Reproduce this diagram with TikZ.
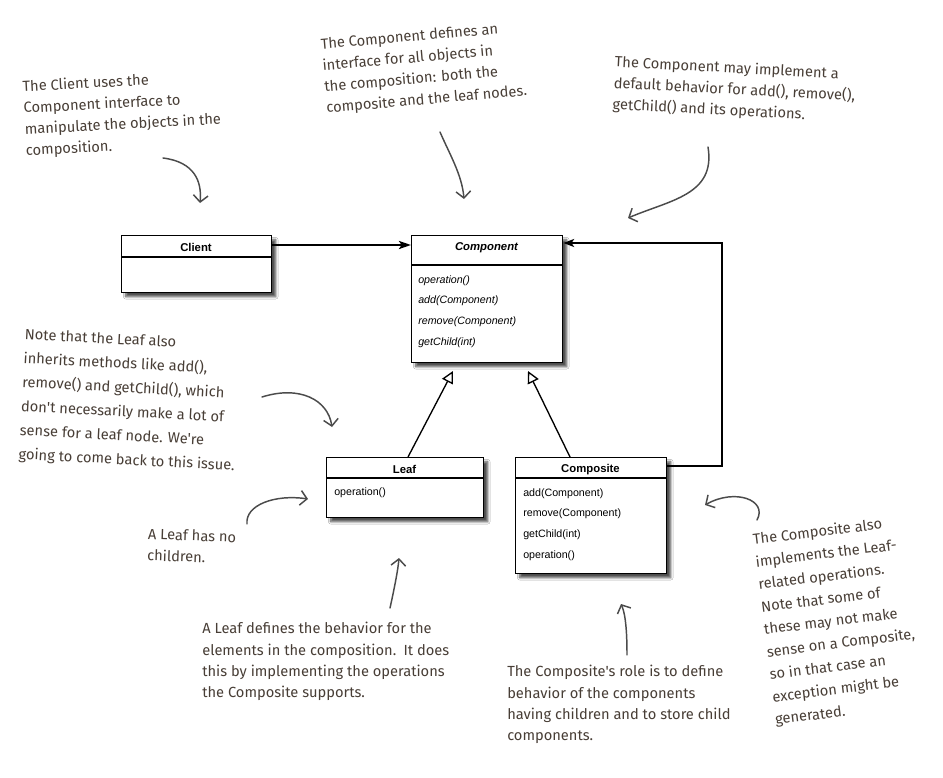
\documentclass[tikz,border=0pt]{standalone}
\usepackage{fontspec}
\newfontfamily\boxfont{Liberation Sans}
\newfontfamily\notefont{Fira Sans}
\usetikzlibrary{arrows.meta,shadows.blur}
\definecolor{notecol}{RGB}{72,62,54}
\definecolor{arrcol}{RGB}{75,75,75}
\tikzset{
 umlbox/.style={draw=black, line width=1.1pt, fill=white, anchor=north west, inner sep=0,
   blur shadow={shadow xshift=3pt, shadow yshift=-3pt, shadow blur steps=6, shadow opacity=70}},
 sep/.style={line width=0.8pt},
 title/.style={font=\boxfont\bfseries\fontsize{8.5}{10}\selectfont, inner sep=0},
 item/.style={font=\boxfont\fontsize{8}{10}\selectfont, anchor=west, inner sep=0},
 note/.style={font=\notefont\fontsize{11}{16}\selectfont, text=notecol, align=left, anchor=north west, inner sep=0},
 hand/.style={draw=arrcol, line width=1.1pt, line cap=round, -{Straight Barb[length=5pt,width=11pt]}},
 assoc/.style={line width=2pt, -{Stealth[length=9pt,width=6pt,inset=2pt]}},
 aggr/.style={line width=1.5pt, -{Stealth[length=8pt,width=6pt,inset=2pt]}},
 inh/.style={line width=1pt, -{Triangle[open,length=9pt,width=9pt]}},
}
\begin{document}
\begin{tikzpicture}[x=0.75pt,y=-0.75pt]
\fill[white] (0,0) rectangle (943,778);
\useasboundingbox (0,0) rectangle (943,778);

% ---- boxes ----
\node[umlbox, minimum width=112.5pt, minimum height=42.75pt] (client) at (121,235) {};
\draw[sep] (client.west |- 0,257) -- (client.east |- 0,257);
\node[title] (clientT) at (196,247) {Client};

\node[umlbox, minimum width=113.25pt, minimum height=95.25pt] (comp) at (411,235) {};
\draw[sep] (comp.west |- 0,265) -- (comp.east |- 0,265);
\node[title, font=\boxfont\bfseries\itshape\fontsize{8.5}{10}\selectfont] (compT) at (486.5,248) {Component};
\node[item] (c1) at (418,281) {\itshape operation()};
\node[item] (c2) at (418,301) {\itshape add(Component)};
\node[item] (c3) at (418,322) {\itshape remove(Component)};
\node[item] (c4) at (418,343) {\itshape getChild(int)};

\node[umlbox, minimum width=117.75pt, minimum height=45pt] (leaf) at (326,457) {};
\draw[sep] (leaf.west |- 0,478) -- (leaf.east |- 0,478);
\node[title] (leafT) at (404.5,469) {Leaf};
\node[item] (l1) at (334,493) {operation()};

\node[umlbox, minimum width=113.25pt, minimum height=87pt] (composite) at (515,457) {};
\draw[sep] (composite.west |- 0,478) -- (composite.east |- 0,478);
\node[title] (compoT) at (590.5,470) {Composite};
\node[item] (k1) at (523,494) {add(Component)};
\node[item] (k2) at (523,514) {remove(Component)};
\node[item] (k3) at (523,535) {getChild(int)};
\node[item] (k4) at (523,556) {operation()};

% ---- connectors ----
\draw[assoc] (client.east |- 0,245) -- (comp.west |- 0,245);
\coordinate (r1) at (722,466);
\coordinate (r2) at (722,243);
\draw[aggr] (composite.east |- r1) -- (r1) -- (r2) -- (comp.east |- r2);
\coordinate (t1) at (453,371);
\coordinate (t2) at (528,371);
\draw[inh] (leaf.north -| 408,0) -- (t1);
\draw[inh] (composite.north -| 570,0) -- (t2);

% ---- notes ----
\node[note, rotate=3] (n1) at (22,80) {The Client uses the\\Component interface to\\manipulate the objects in the\\composition.};
\node[note, rotate=5] (n2) at (320,38) {The Component defines an\\interface for all objects in\\the composition: both the\\composite and the leaf nodes.};
\node[note, rotate=-3] (n3) at (615,55) {The Component may implement a\\default behavior for add(), remove(),\\getChild() and its operations.};
\node[note, rotate=-3, font=\notefont\fontsize{11}{18}\selectfont] (n4) at (25,328) {Note that the Leaf also\\inherits methods like add(),\\remove() and getChild(), which\\don't necessarily make a lot of\\sense for a leaf node. We're\\going to come back to this issue.};
\node[note, rotate=-2] (n5) at (148,528) {A Leaf has no\\children.};
\node[note] (n6) at (202,622) {A Leaf defines the behavior for the\\elements in the composition.\enspace It does\\this by implementing the operations\\the Composite supports.};
\node[note] (n7) at (507,665) {The Composite's role is to define\\behavior of the components\\having children and to store child\\components.};
\node[note, rotate=7, font=\notefont\fontsize{11}{17}\selectfont] (n8) at (752,533) {The Composite also\\implements the Leaf-\\related operations.\\Note that some of\\these may not make\\sense on a Composite,\\so in that case an\\exception might be\\generated.};

% ---- hand arrows ----
\coordinate (a1s) at (163,158); \coordinate (a1e) at (200,203);
\draw[hand] (a1s) .. controls (195,162) and (202,182) .. (a1e);
\coordinate (a2s) at (440,132); \coordinate (a2e) at (464,199);
\draw[hand] (a2s) .. controls (450,155) and (462,175) .. (a2e);
\coordinate (a3s) at (708,147); \coordinate (a3e) at (628,218);
\draw[hand] (a3s) .. controls (716,195) and (670,200) .. (a3e);
\coordinate (a4s) at (262,397); \coordinate (a4e) at (332,427);
\draw[hand] (a4s) .. controls (300,385) and (328,400) .. (a4e);
\coordinate (a5s) at (247,524); \coordinate (a5e) at (308,499);
\draw[hand] (a5s) .. controls (245,505) and (275,494) .. (a5e);
\coordinate (a6s) at (390,608); \coordinate (a6e) at (399,558);
\draw[hand] (a6s) .. controls (394,590) and (398,570) .. (a6e);
\coordinate (a7s) at (627,655); \coordinate (a7e) at (621,604);
\draw[hand] (a7s) .. controls (627,635) and (626,615) .. (a7e);
\coordinate (a8s) at (757,520); \coordinate (a8e) at (705,505);
\draw[hand] (a8s) .. controls (768,500) and (735,488) .. (a8e);
\end{tikzpicture}
\end{document}
